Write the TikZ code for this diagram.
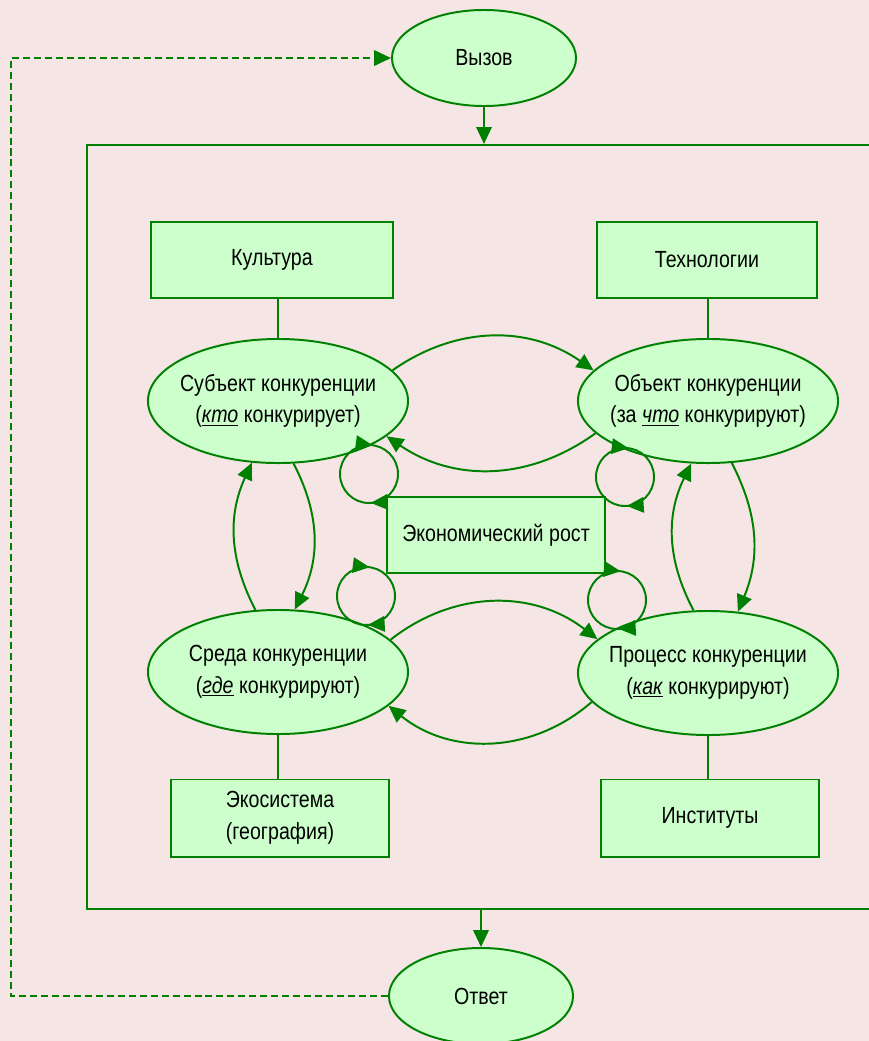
\documentclass[tikz,border=0pt]{standalone}
\usepackage{fontspec}
\setmainfont{Liberation Sans}[FakeStretch=0.84]
\usepackage{xcolor}
\usetikzlibrary{shapes.geometric, arrows.meta, positioning, decorations.markings}
\definecolor{bgpink}{RGB}{245,229,229}
\definecolor{lgreen}{RGB}{204,255,204}
\definecolor{dgreen}{RGB}{0,128,0}

\begin{document}
\begin{tikzpicture}[x=0.025cm, y=-0.025cm,
    txt/.style={align=center, font=\fontsize{16.6}{22.5}\selectfont},
    oval/.style={ellipse, draw=dgreen, fill=lgreen, line width=1.4pt, inner sep=0pt, minimum width=6.5cm, minimum height=3.1cm},
    smalloval/.style={oval, minimum width=4.6cm, minimum height=2.4cm},
    box/.style={rectangle, draw=dgreen, fill=lgreen, line width=1.4pt, minimum height=1.9cm, txt},
    conn/.style={draw=dgreen, line width=1.4pt},
    arr/.style={conn, -{Triangle[length=12pt,width=11pt]}},
    backline/.style={conn, dash pattern=on 5pt off 2.8pt, -{Triangle[length=12pt,width=11pt]}},
    selfloop/.style={conn, postaction={decorate}, decoration={markings,
        mark=at position 0.24 with {\arrow{Triangle[length=12pt,width=11pt]}},
        mark=at position 0.77 with {\arrow{Triangle[length=12pt,width=11pt]}}}}]

    \useasboundingbox (0,0) rectangle (869,1041);
    \clip (0,0) rectangle (869,1041);
    \fill[bgpink] (0,0) rectangle (869,1041);

    % Рамка
    \node[rectangle, draw=dgreen, line width=1.4pt, minimum width=20.65cm, minimum height=19.1cm] (frame) at (500,527) {};

    % Вызов и ответ
    \node[smalloval, txt] (vyzov) at (484,58) {Вызов};
    \node[smalloval, txt] (otvet) at (481,996) {Ответ};
    \coordinate (back) at (11,500);

    % Блоки
    \node[box, minimum width=6.025cm] (kult) at (272,260) {Культура};
    \node[box, minimum width=5.475cm] (tech) at (707,260) {Технологии};
    \node[box, minimum width=5.45cm, minimum height=1.925cm] (eco) at (280,818) {Экосистема\\(география)};
    \node[box, minimum width=5.45cm, minimum height=1.925cm] (inst) at (710,818) {Институты};
    \node[box, minimum width=5.425cm] (growth) at (496,535) {Экономический рост};

    % Эллипсы
    \node[oval] (subj) at (278,401) {};
    \node[oval] (obj) at (708,401) {};
    \node[oval] (sreda) at (278,672) {};
    \node[oval] (proc) at (708,673) {};
    \node[txt] (subjtxt) at (subj) {Субъект конкуренции\\(\underline{\textit{кто}} конкурирует)};
    \node[txt] (objtxt) at (obj) {Объект конкуренции\\(за \underline{\textit{что}} конкурируют)};
    \node[txt] (sredatxt) at (sreda) {Среда конкуренции\\(\underline{\textit{где}} конкурируют)};
    \node[txt] (proctxt) at (proc) {Процесс конкуренции\\(\underline{\textit{как}} конкурируют)};

    % Связи
    \draw[arr] (vyzov) -- (vyzov.south |- frame.north);
    \draw[arr] (otvet.north |- frame.south) -- (otvet);
    \draw[backline] (otvet.west) -- (back |- otvet.west) -- (back |- vyzov.west) -- (vyzov.west);
    \draw[conn] (subj.north |- kult.south) -- (subj.north);
    \draw[conn] (obj.north |- tech.south) -- (obj.north);
    \draw[conn] (sreda.south) -- (sreda.south |- eco.north);
    \draw[conn] (proc.south) -- (proc.south |- inst.north);

    % Взаимодействия
    \draw[arr] (subj.15) to[bend left=35] (obj.165);
    \draw[arr] (obj.196) to[bend left=35] (subj.342);
    \draw[arr] (sreda.16) to[bend left=38] (proc.163);
    \draw[arr] (proc.194) to[bend left=40] (sreda.343);
    \draw[arr] (sreda.110) to[bend left=26] (subj.247);
    \draw[arr] (subj.284) to[bend left=27] (sreda.75);
    \draw[arr] (proc.103) to[bend left=27] (obj.255);
    \draw[arr] (obj.291) to[bend left=25] (proc.64);

    % Петли
    \draw[selfloop] (369,474) circle (29);
    \draw[selfloop] (625,477) circle (29);
    \draw[selfloop] (366,596) circle (29);
    \draw[selfloop] (617,600) circle (29);
\end{tikzpicture}
\end{document}
